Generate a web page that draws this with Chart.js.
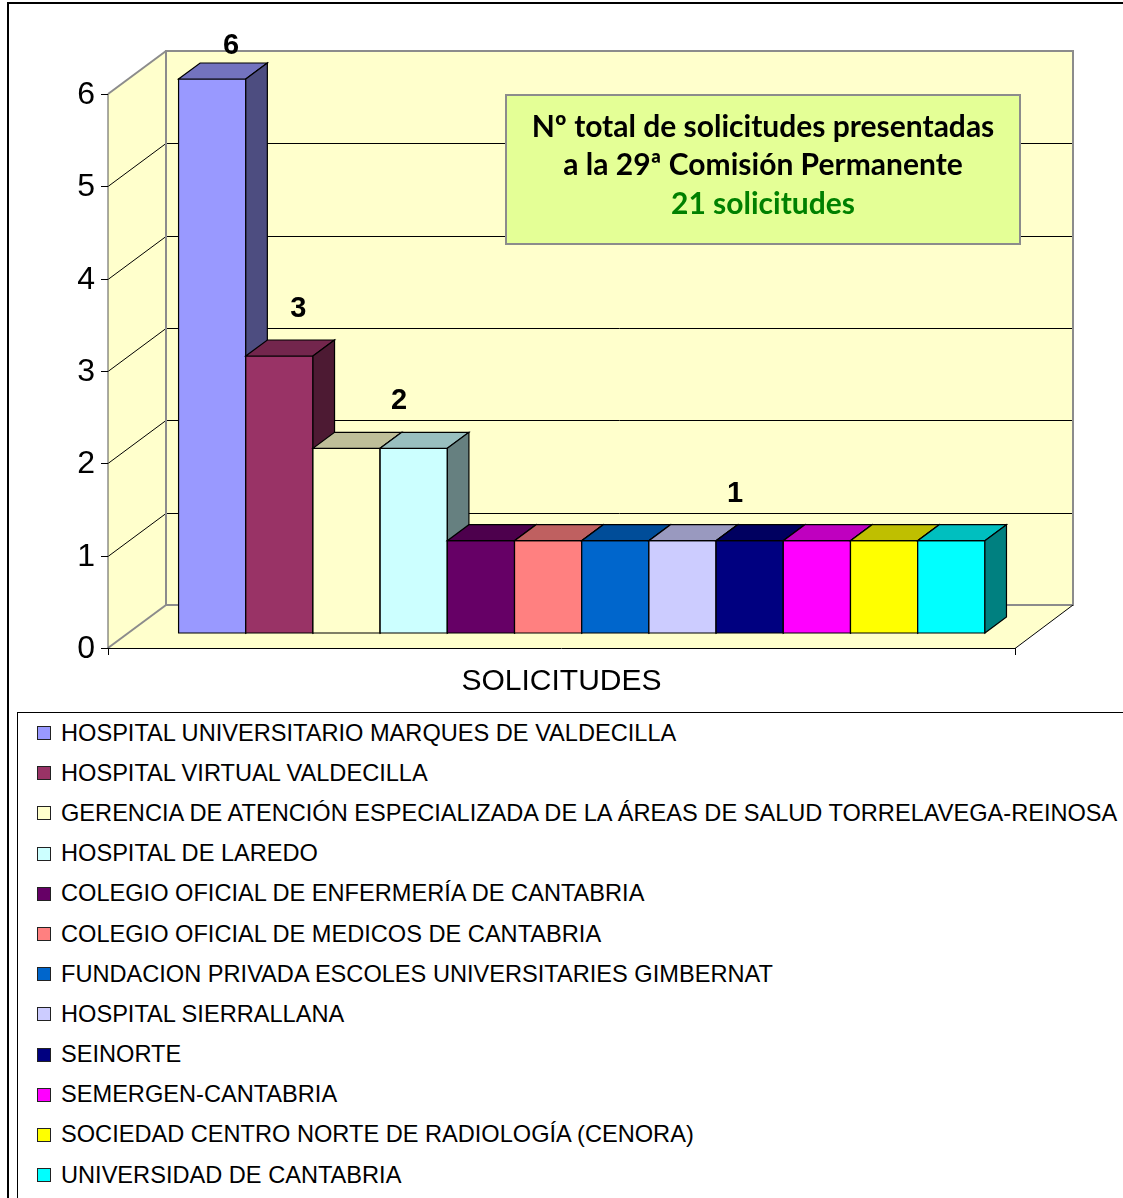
<!DOCTYPE html>
<html lang="es">
<head>
<meta charset="utf-8">
<title>Solicitudes - 29ª Comisión Permanente</title>
<script src="https://cdn.jsdelivr.net/npm/chart.js@4.4.1/dist/chart.umd.min.js"></script>
<style>
  html, body { margin: 0; padding: 0; background: #fff; }
  body { width: 1123px; height: 1198px; overflow: hidden; position: relative; font-family: 'Liberation Sans', Arial, sans-serif; }
  #frame { position: absolute; left: 7px; top: 2px; width: 1300px; height: 1300px; border: 2px solid #000; box-sizing: border-box; }
  #chart { position: absolute; left: 0; top: 0; }
  #legend { position: absolute; left: 17px; top: 712px; width: 1300px; height: 600px; border: 1px solid #000; box-sizing: border-box; background: #fff; }
  #legend ul { list-style: none; margin: 0; padding: 0; }
  #legend li { height: 40.2px; display: flex; align-items: center; white-space: nowrap; font-size: 23.6px; color: #000; }
  #legend .sw { width: 14px; height: 14px; border: 1.5px solid #222; margin-left: 19px; margin-right: 10px; box-sizing: border-box; flex: none; }
</style>
</head>
<body>
<div id="frame"></div>
<canvas id="chart" width="1123" height="705"></canvas>
<div id="legend"></div>

<script>
// ---- data ----
const categories = ['SOLICITUDES'];
const entities = [
  'HOSPITAL UNIVERSITARIO MARQUES DE VALDECILLA',
  'HOSPITAL VIRTUAL VALDECILLA',
  'GERENCIA DE ATENCIÓN ESPECIALIZADA DE LA ÁREAS DE SALUD TORRELAVEGA-REINOSA',
  'HOSPITAL DE LAREDO',
  'COLEGIO OFICIAL DE ENFERMERÍA DE CANTABRIA',
  'COLEGIO OFICIAL DE MEDICOS DE CANTABRIA',
  'FUNDACION PRIVADA ESCOLES UNIVERSITARIES GIMBERNAT',
  'HOSPITAL SIERRALLANA',
  'SEINORTE',
  'SEMERGEN-CANTABRIA',
  'SOCIEDAD CENTRO NORTE DE RADIOLOGÍA (CENORA)',
  'UNIVERSIDAD DE CANTABRIA'
];
const counts = [6, 3, 2, 2, 1, 1, 1, 1, 1, 1, 1, 1];
const colors = ['#9999FF', '#993366', '#FFFFCC', '#CCFFFF', '#660066', '#FF8080',
                '#0066CC', '#CCCCFF', '#000080', '#FF00FF', '#FFFF00', '#00FFFF'];
const yTicks = [0, 1, 2, 3, 4, 5, 6];
const boxLines = ['Nº total de solicitudes presentadas', 'a la 29ª Comisión Permanente'];

// ---- 3D look ----
const DX = 58, DY = 43;            // depth of floor / side wall
const BAR_Z0 = 15 / 43, BAR_Z1 = 31 / 43;   // bar front / back as part of the depth
const WALL = '#FFFFCC';

function shade(hex, f) {
  const n = parseInt(hex.slice(1), 16);
  const r = Math.round(((n >> 16) & 255) * f);
  const g = Math.round(((n >> 8) & 255) * f);
  const b = Math.round((n & 255) * f);
  return `rgb(${r},${g},${b})`;
}

function poly(ctx, pts, fill, stroke, lw) {
  ctx.beginPath();
  ctx.moveTo(pts[0][0], pts[0][1]);
  for (let i = 1; i < pts.length; i++) ctx.lineTo(pts[i][0], pts[i][1]);
  ctx.closePath();
  if (fill) { ctx.fillStyle = fill; ctx.fill(); }
  if (stroke) { ctx.strokeStyle = stroke; ctx.lineWidth = lw || 1; ctx.stroke(); }
}

function line(ctx, pts, color, lw) {
  ctx.beginPath();
  ctx.moveTo(pts[0][0], pts[0][1]);
  for (let i = 1; i < pts.length; i++) ctx.lineTo(pts[i][0], pts[i][1]);
  ctx.strokeStyle = color; ctx.lineWidth = lw || 1; ctx.stroke();
}

const scene3d = {
  id: 'scene3d',
  beforeDatasetsDraw(chart) {
    const { ctx, chartArea: a, scales: { x, y } } = chart;
    const x0 = a.left, x1 = a.right;
    const yb = y.getPixelForValue(yTicks[0]);
    const yt = y.getPixelForValue(yTicks[yTicks.length - 1]);
    ctx.save();

    // walls + floor
    ctx.fillStyle = WALL;
    ctx.fillRect(x0 + DX, yt - DY, x1 - x0, yb - yt);
    poly(ctx, [[x0, yt], [x0 + DX, yt - DY], [x0 + DX, yb - DY], [x0, yb]], WALL);
    poly(ctx, [[x0, yb], [x1, yb], [x1 + DX, yb - DY], [x0 + DX, yb - DY]], WALL);

    // gridlines
    yTicks.slice(1, -1).forEach(v => {
      const py = Math.round(y.getPixelForValue(v)) + 0.5;
      line(ctx, [[x0, py], [x0 + DX, py - DY], [x1 + DX, py - DY]], '#000', 1);
    });

    // borders
    ctx.strokeStyle = '#8c8c8c'; ctx.lineWidth = 2;
    ctx.strokeRect(x0 + DX, yt - DY, x1 - x0, yb - yt);
    line(ctx, [[x0, yt], [x0 + DX, yt - DY]], '#8c8c8c', 2);
    line(ctx, [[x0, yb], [x0 + DX, yb - DY]], '#8c8c8c', 2);
    line(ctx, [[x0, yt], [x0, yb]], '#555', 1);
    line(ctx, [[x0, yb + 0.5], [x1, yb + 0.5], [x1 + DX, yb - DY]], '#000', 1);
    line(ctx, [[x0 + 0.5, yb], [x0 + 0.5, yb + 7]], '#000', 1);
    line(ctx, [[x1 + 0.5, yb], [x1 + 0.5, yb + 7]], '#000', 1);

    // y ticks + labels
    ctx.font = '32px "Liberation Sans", Arial, sans-serif';
    ctx.fillStyle = '#000';
    ctx.textAlign = 'right';
    ctx.textBaseline = 'middle';
    yTicks.forEach(v => {
      const py = Math.round(y.getPixelForValue(v)) + 0.5;
      line(ctx, [[x0 - 7, py], [x0, py]], '#000', 1);
      ctx.fillText(String(v), x0 - 13, py + 1);
    });

    // category label
    ctx.textAlign = 'center';
    ctx.font = '30px "Liberation Sans", Arial, sans-serif';
    ctx.fillText(categories[0], x.getPixelForValue(0), yb + 34);

    // bars
    const fdx = DX * BAR_Z0, fdy = DY * BAR_Z0;
    const ddx = DX * (BAR_Z1 - BAR_Z0), ddy = DY * (BAR_Z1 - BAR_Z0);
    const boxes = [];
    chart.data.datasets.forEach((ds, i) => {
      const el = chart.getDatasetMeta(i).data[0];
      const p = el.getProps(['x', 'y', 'base', 'width'], true);
      const L = p.x - p.width / 2 + fdx, R = p.x + p.width / 2 + fdx;
      const T = p.y - fdy, B = p.base - fdy;
      const c = ds.backgroundColor;
      poly(ctx, [[L, T], [R, T], [R, B], [L, B]], c, '#000', 1.2);
      poly(ctx, [[L, T], [R, T], [R + ddx, T - ddy], [L + ddx, T - ddy]], shade(c, 0.75), '#000', 1.2);
      poly(ctx, [[R, T], [R + ddx, T - ddy], [R + ddx, B - ddy], [R, B]], shade(c, 0.5), '#000', 1.2);
      boxes.push({ L, R, T: T - ddy });
    });

    // value labels, one per run of equal values
    ctx.font = 'bold 29px "Liberation Sans", Arial, sans-serif';
    ctx.fillStyle = '#000';
    let s = 0;
    for (let i = 1; i <= counts.length; i++) {
      if (i === counts.length || counts[i] !== counts[s]) {
        const cx = (boxes[s].L + boxes[i - 1].R) / 2 + 19;
        const cy = Math.max(boxes[s].T - 31, yt - DY - 5);
        ctx.fillText(String(counts[s]), cx, cy);
        s = i;
      }
    }
    ctx.restore();
    return false;
  },
  afterDraw(chart) {
    const { ctx, chartArea: a } = chart;
    const bx = a.left + 398, by = a.top + 1, bw = 514, bh = 149;
    ctx.save();
    ctx.fillStyle = '#E4FF96';
    ctx.fillRect(bx, by, bw, bh);
    ctx.strokeStyle = '#8c8c8c'; ctx.lineWidth = 2;
    ctx.strokeRect(bx, by, bw, bh);
    ctx.textAlign = 'center';
    ctx.textBaseline = 'middle';
    ctx.font = 'bold 30px Lato, "Open Sans", sans-serif';
    ctx.fillStyle = '#000';
    ctx.fillText(boxLines[0], bx + bw / 2, by + 32);
    ctx.fillText(boxLines[1], bx + bw / 2, by + 70);
    const total = counts.reduce((t, v) => t + v, 0);
    ctx.fillStyle = '#008000';
    ctx.fillText(`${total} solicitudes`, bx + bw / 2, by + 109);
    ctx.restore();
  }
};

const chart = new Chart(document.getElementById('chart'), {
  type: 'bar',
  data: {
    labels: categories,
    datasets: entities.map((name, i) => ({
      label: name,
      data: [counts[i]],
      backgroundColor: colors[i],
      categoryPercentage: 0.889,
      barPercentage: 1
    }))
  },
  options: {
    responsive: false,
    animation: false,
    layout: { padding: { left: 108, right: 108, top: 94, bottom: 57 } },
    plugins: { legend: { display: false }, tooltip: { enabled: false } },
    scales: {
      x: { display: false },
      y: { display: false, min: yTicks[0], max: yTicks[yTicks.length - 1], ticks: { stepSize: 1 } }
    }
  },
  plugins: [scene3d]
});

// html legend, one entry per line
const ul = document.createElement('ul');
chart.data.datasets.forEach(ds => {
  const li = document.createElement('li');
  const sw = document.createElement('span');
  sw.className = 'sw';
  sw.style.background = ds.backgroundColor;
  li.appendChild(sw);
  li.appendChild(document.createTextNode(ds.label));
  ul.appendChild(li);
});
document.getElementById('legend').appendChild(ul);
</script>
</body>
</html>
